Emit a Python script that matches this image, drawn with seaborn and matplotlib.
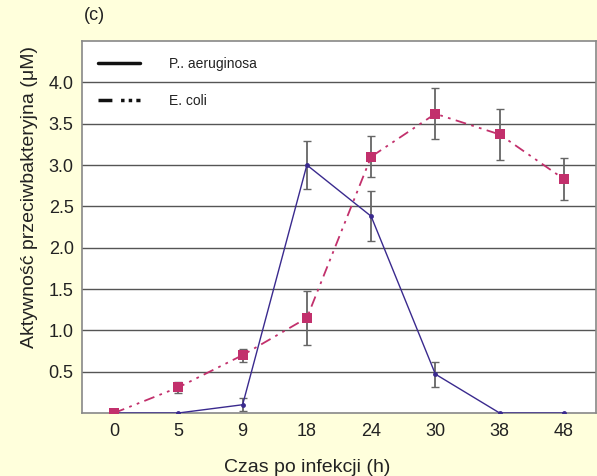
import numpy as np
import pandas as pd
import matplotlib
matplotlib.use('Agg')
import matplotlib.pyplot as plt
import seaborn as sns
from matplotlib.lines import Line2D

# -----------------------------
# data
# -----------------------------
czas = ['0', '5', '9', '18', '24', '30', '38', '48']
pa_vals = [0.0, 0.0, 0.10, 3.00, 2.38, 0.47, 0.0, 0.0]
pa_err = [0.0, 0.0, 0.08, 0.29, 0.30, 0.15, 0.0, 0.0]
ec_vals = [0.0, 0.31, 0.70, 1.15, 3.10, 3.62, 3.37, 2.83]
ec_err = [0.0, 0.07, 0.08, 0.33, 0.25, 0.31, 0.31, 0.25]
y_ticks = [0.5, 1.0, 1.5, 2.0, 2.5, 3.0, 3.5, 4.0]

bg = '#ffffdc'
pa_col = '#3a2a8e'
ec_col = '#c2306c'
ec_dash = (6, 3, 1.5, 3, 1.5, 3)
txt_col = '#222222'

sns.set_style('white')
plt.rcParams['font.family'] = ['Liberation Sans', 'DejaVu Sans']

df = pd.DataFrame({
    'pos': list(range(len(czas))) * 2,
    'val': pa_vals + ec_vals,
    'err': pa_err + ec_err,
    'szczep': ['P. aeruginosa'] * len(czas) + ['E. coli'] * len(czas),
})

fig = plt.figure(figsize=(5.97, 4.76), dpi=100, facecolor=bg)
ax = fig.add_axes([82 / 597, 1 - 413 / 476, 514 / 597, 372 / 476])
ax.set_facecolor('white')

# gridlines
for yv in y_ticks:
    ax.axhline(yv, color='#555555', lw=1.0, zorder=0)

# error bars
for name in ['P. aeruginosa', 'E. coli']:
    sub = df[(df['szczep'] == name) & (df['err'] > 0)]
    ax.errorbar(sub['pos'], sub['val'], yerr=sub['err'], fmt='none',
                ecolor='#666666', elinewidth=1.3, capsize=3, capthick=1.0, zorder=2)

pa = df[df['szczep'] == 'P. aeruginosa']
ec = df[df['szczep'] == 'E. coli']
sns.lineplot(data=pa, x='pos', y='val', ax=ax, color=pa_col, lw=1.0,
             marker='o', markersize=3.5, markeredgewidth=0, zorder=3,
             legend=False)
sns.lineplot(data=ec, x='pos', y='val', ax=ax, color=ec_col, lw=1.3,
             dashes=False, marker='s', markersize=7, markeredgewidth=0,
             zorder=4, legend=False)
ax.lines[-1].set_dashes(ec_dash)

ax.set_xlim(-0.5, len(czas) - 0.5)
ax.set_ylim(0, 4.5)
ax.set_xticks(range(len(czas)))
ax.set_xticklabels(czas)
ax.set_yticks(y_ticks)
ax.set_yticklabels([f'{v:.1f}' for v in y_ticks])
ax.tick_params(axis='both', length=0, labelsize=13, colors=txt_col)
ax.tick_params(axis='x', pad=7)
ax.tick_params(axis='y', pad=6)

for s in ax.spines.values():
    s.set_color('#888888')
    s.set_linewidth(1.2)

ax.set_xlabel('Czas po infekcji (h)', fontsize=14, color=txt_col)
ax.set_ylabel('Aktywność przeciwbakteryjna (μM)', fontsize=14, color=txt_col)
ax.xaxis.set_label_coords((307 - 82) / 514, (413 - 459) / 372)
ax.yaxis.set_label_coords((38 - 82) / 514, (413 - 197) / 372)

handles = [
    Line2D([], [], color='#111111', lw=2.5),
    Line2D([], [], color='#111111', lw=2.5, dashes=(4, 2.5, 1, 1.2, 1, 1.2)),
]
leg = ax.legend(handles, ['P.. aeruginosa', 'E. coli'], loc='upper left',
                frameon=False, fontsize=10, handlelength=3.0, handletextpad=2.1,
                labelspacing=1.7, borderaxespad=0.6, bbox_to_anchor=(0.005, 0.995))
for t in leg.get_texts():
    t.set_color(txt_col)

fig.text(84 / 597, 1 - 16 / 476, '(c)', fontsize=13, color=txt_col, va='center')

fig.savefig('out.png', dpi=100, facecolor=bg)
